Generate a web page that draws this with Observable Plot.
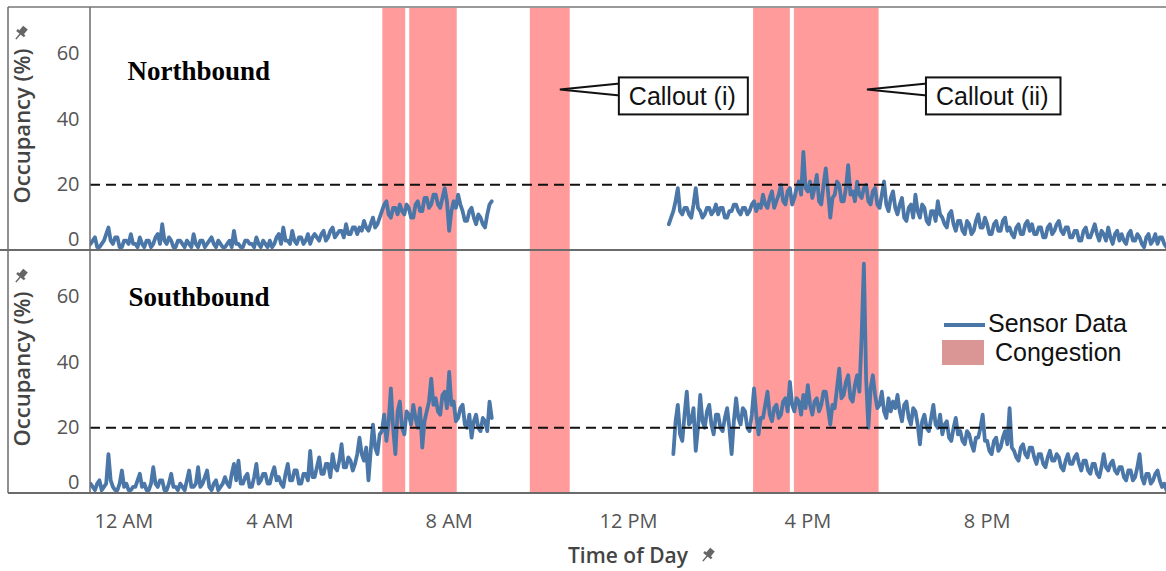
<!DOCTYPE html>
<html>
<head>
<meta charset="utf-8">
<script src="https://cdn.jsdelivr.net/npm/d3@7"></script>
<script src="https://cdn.jsdelivr.net/npm/@observablehq/plot@0.6"></script>
<style>
html,body{margin:0;padding:0;background:#fff;overflow:hidden;}
#wrap{position:relative;width:1166px;height:571px;}
</style>
</head>
<body>
<div id="wrap"></div>
<script>
// ---------- data ----------
const directions = ["Northbound", "Southbound"];
const sampleStepHours = 0.05;

// Northbound occupancy (%), one reading every 0.05 h
const northAMStart = 0.0;
const northAM = [
  2,3,4,1,1,2,3,5,7,3,2,4,4,1,1,3,3,2,5,2,
  2,1,4,2,1,3,3,1,2,4,5,2,8,3,2,4,3,1,1,3,
  3,2,1,3,2,1,5,2,1,3,3,1,2,3,4,2,1,3,2,1,
  1,2,3,1,6,2,2,1,1,3,3,2,2,1,4,2,1,3,2,1,
  3,1,2,4,5,2,7,3,3,2,6,3,2,4,4,2,3,5,2,4,
  5,4,3,5,6,3,4,6,7,4,5,6,6,4,8,5,5,7,7,5,
  7,6,9,7,6,8,10,7,8,10,12,14,15,11,10,13,13,11,14,12,
  11,14,13,10,10,14,15,12,12,16,16,13,14,17,17,14,13,16,19,15,
  6,12,15,13,17,14,12,9,9,12,13,10,8,11,10,8,7,11,14,15
];
const northPMStart = 12.9;
const northPM = [
  8,10,
  12,15,19,12,11,13,13,11,10,14,19,13,12,10,11,13,13,11,12,14,
  11,13,13,10,10,12,12,14,14,12,11,13,13,11,12,14,15,12,14,13,
  17,14,13,16,18,13,15,17,20,15,14,18,19,14,16,19,21,17,30,19,
  18,21,16,19,23,15,14,20,25,18,10,16,17,21,20,15,15,19,26,17,
  18,15,21,17,16,19,20,15,14,18,19,14,13,17,21,14,12,16,18,13,
  11,14,16,10,9,13,14,10,17,12,10,14,13,9,8,12,12,9,15,11,
  10,8,7,11,12,8,6,9,9,6,5,9,8,5,6,9,11,7,7,10,
  8,5,5,8,9,6,6,9,10,6,7,5,4,7,8,5,5,8,9,6,
  8,5,5,7,7,4,4,7,8,5,6,8,9,6,5,7,7,4,4,6,
  6,3,3,6,7,4,4,6,8,5,3,6,5,3,7,4,2,5,6,3,
  5,3,2,5,6,3,3,5,4,2,1,4,5,2,3,5,2,4,4,2,
  1
];

// Southbound occupancy (%)
const southAMStart = 0.0;
const southAM = [
  3,2,1,3,4,1,2,3,12,4,2,1,1,3,7,2,3,1,1,2,
  2,4,6,2,3,1,1,3,8,3,2,4,4,1,1,3,6,2,2,1,
  3,2,1,4,7,2,2,3,8,2,3,5,7,2,1,3,4,1,2,3,
  5,3,2,6,9,4,10,3,3,5,6,2,2,5,9,3,4,6,6,3,
  3,6,8,4,5,3,2,6,9,4,4,7,7,3,3,6,6,4,13,5,
  5,8,11,6,6,9,9,5,12,8,7,10,15,8,8,11,10,7,9,12,
  17,12,10,14,4,13,21,14,12,18,19,24,16,22,32,20,12,25,28,20,
  18,25,24,21,27,23,20,26,14,22,25,28,35,27,29,25,24,30,31,26,
  37,27,28,22,23,26,27,21,20,24,17,22,24,20,19,23,22,19,28,23
];
const southPMStart = 13.0;
const southPM = [
  12,22,27,18,16,24,31,21,22,26,13,20,30,22,20,25,27,21,18,24,
  24,20,19,23,26,20,12,22,29,23,21,26,25,20,19,24,32,24,18,23,
  23,27,31,24,22,26,27,23,24,28,29,25,34,27,25,29,28,24,30,26,
  33,27,24,28,29,25,27,31,31,26,21,27,26,32,38,29,30,34,36,29,
  28,33,36,31,48,70,35,20,32,36,30,26,27,31,25,23,29,25,28,26,
  30,25,22,27,28,23,21,26,25,21,15,22,24,20,19,23,27,21,20,24,
  18,21,22,17,16,20,23,18,19,16,15,19,18,15,13,17,17,20,24,16,
  16,13,12,16,17,13,14,17,19,15,26,14,13,11,10,14,15,12,11,14,
  14,11,9,12,12,9,8,11,13,10,10,12,11,8,7,10,12,9,9,11,
  12,9,7,10,10,7,6,9,9,6,5,8,12,8,7,9,10,7,6,8,
  8,5,4,7,7,4,5,8,12,5,3,6,6,3,4,6,7,4,2,3,
  1
];

// Congestion periods (hour of day)
const congestionStart = [6.52, 7.12, 9.81, 14.79, 15.70];
const congestionEnd   = [7.03, 8.18, 10.70, 15.61, 17.59];

const thresholdOccupancy = 20;
const yTicks = [0, 20, 40, 60];
const xTicks = [0, 4, 8, 12, 16, 20];
const xTickLabels = ["12 AM", "4 AM", "8 AM", "12 PM", "4 PM", "8 PM"];

// Callouts (top panel): label and the (hour, occupancy) they point at
const calloutLabels = ["Callout (i)", "Callout (ii)"];
const calloutHours = [10.48, 17.33];
const calloutOcc = [48.9, 48.9];

// ---------- build tables ----------
function series(dir, seg, start, values) {
  return values.map((v, i) => ({dir, seg: dir + seg, hour: +(start + i * sampleStepHours).toFixed(3), occ: v}));
}
const sensor = [
  ...series("Northbound", "am", northAMStart, northAM),
  ...series("Northbound", "pm", northPMStart, northPM),
  ...series("Southbound", "am", southAMStart, southAM),
  ...series("Southbound", "pm", southPMStart, southPM)
];
const bands = directions.flatMap(dir => congestionStart.map((s, i) => ({dir, x1: s, x2: congestionEnd[i]})));
const thresholds = directions.map(dir => ({dir, v: thresholdOccupancy}));
const labelOf = h => xTickLabels[xTicks.indexOf(h)];

const W = 1166, H = 571, ML = 90, MT = 7, MB = 78;
const tickFont = "Open Sans";

const plot = Plot.plot({
  width: W, height: H,
  marginLeft: ML, marginRight: 0, marginTop: MT, marginBottom: MB,
  x: {domain: [0, 24]},
  y: {domain: [0, 74]},
  fy: {domain: directions, axis: null, padding: 0},
  style: {fontFamily: tickFont, background: "white", overflow: "visible"},
  marks: [
    Plot.rect(bands, {x1: "x1", x2: "x2", fy: "dir", fill: "#ff9b9b"}),
    Plot.line(sensor, {x: "hour", y: "occ", z: "seg", fy: "dir", stroke: "#4a77a8", strokeWidth: 3.8, strokeLinejoin: "round", clip: true}),
    Plot.ruleY(thresholds, {y: "v", fy: "dir", stroke: "#111", strokeWidth: 2, strokeDasharray: "10,6"}),
    Plot.axisY(yTicks.filter(t => t !== 0), {tickSize: 0, tickPadding: 11, fontSize: 20, color: "#555", label: null}),
    Plot.axisY([0], {tickSize: 0, tickPadding: 11, fontSize: 20, color: "#555", label: null, dy: -11}),
    Plot.axisX(xTicks.filter(t => t !== 0), {tickSize: 0, tickPadding: 20, fontSize: 20, color: "#555", label: null, tickFormat: labelOf}),
    Plot.text([0], {x: d => d, fy: () => "Southbound", frameAnchor: "bottom", text: d => labelOf(d), textAnchor: "start", lineAnchor: "top", dx: 4, dy: 20, fontSize: 20, fill: "#555"}),
    Plot.text(["Northbound"], {fy: d => d, text: d => d, frameAnchor: "top-left", textAnchor: "start", lineAnchor: "middle", dx: 37, dy: 64, fontFamily: "Liberation Serif", fontWeight: "bold", fontSize: 27, fill: "#000"}),
    Plot.text(["Southbound"], {fy: d => d, text: d => d, frameAnchor: "top-left", textAnchor: "start", lineAnchor: "middle", dx: 38, dy: 47, fontFamily: "Liberation Serif", fontWeight: "bold", fontSize: 27, fill: "#000"}),
    Plot.text(directions, {fy: d => d, text: () => "Occupancy (%)", frameAnchor: "left", textAnchor: "middle", lineAnchor: "middle", rotate: -90, dx: -68, dy: -3, fontSize: 22, fontWeight: 600, fill: "#444"})
  ]
});
document.getElementById("wrap").appendChild(plot);

// ---------- overlay: frame, callouts, legend, titles ----------
const svg = d3.select(plot);
const ov = svg.append("g").attr("text-anchor", "start");
const lineColor = "#6b6b6b";
// frame lines
ov.append("line").attr("x1", 8).attr("x2", W).attr("y1", MT).attr("y2", MT).attr("stroke", "#999").attr("stroke-width", 2);
ov.append("line").attr("x1", 8).attr("x2", 8).attr("y1", MT).attr("y2", H - MB).attr("stroke", lineColor).attr("stroke-width", 1.5);
ov.append("line").attr("x1", ML).attr("x2", ML).attr("y1", MT).attr("y2", H - MB).attr("stroke", lineColor).attr("stroke-width", 1.5);
ov.append("line").attr("x1", 0).attr("x2", W).attr("y1", (MT + H - MB) / 2).attr("y2", (MT + H - MB) / 2).attr("stroke", lineColor).attr("stroke-width", 2);
ov.append("line").attr("x1", 8).attr("x2", W).attr("y1", H - MB).attr("y2", H - MB).attr("stroke", lineColor).attr("stroke-width", 2);

// callouts via scales
const xs = plot.scale("x"), ys = plot.scale("y"), fys = plot.scale("fy");
const topOffset = fys.apply("Northbound") - MT;
calloutLabels.forEach((lab, i) => {
  const tx = xs.apply(calloutHours[i]);
  const ty = ys.apply(calloutOcc[i]) + topOffset;
  const bx = tx + 59, by = ty - 12, bh = 37;
  const g = ov.append("g");
  const t = g.append("text").attr("x", bx + 10).attr("y", by + bh / 2).attr("dy", "0.36em").attr("text-anchor", "start")
    .attr("font-family", "Liberation Sans, Arial, sans-serif").attr("font-size", 25).attr("fill", "#111").text(lab);
  const tw = t.node().getComputedTextLength();
  g.insert("path", "text").attr("d", `M${bx + 1},${ty - 6} L${tx},${ty} L${bx + 1},${ty + 6}`)
    .attr("fill", "white").attr("stroke", "#111").attr("stroke-width", 2);
  g.insert("rect", "text").attr("x", bx).attr("y", by).attr("width", tw + 22).attr("height", bh)
    .attr("fill", "white").attr("stroke", "#111").attr("stroke-width", 2);
});

// legend
const lg = ov.append("g").attr("font-family", "Liberation Sans, Arial, sans-serif").attr("font-size", 25).attr("fill", "#111").attr("text-anchor", "start");
lg.append("line").attr("x1", 944).attr("x2", 985).attr("y1", 325).attr("y2", 325).attr("stroke", "#4a77a8").attr("stroke-width", 4);
lg.append("text").attr("x", 988).attr("y", 323).attr("dy", "0.36em").text("Sensor Data");
lg.append("rect").attr("x", 942).attr("y", 340).attr("width", 42).attr("height", 25).attr("fill", "#d99694");
lg.append("text").attr("x", 995).attr("y", 352).attr("dy", "0.36em").text("Congestion");

// x axis title
ov.append("text").attr("x", 628).attr("y", 555).attr("dy", "0.36em").attr("text-anchor", "middle")
  .attr("font-family", tickFont).attr("font-weight", 600).attr("font-size", 21).attr("fill", "#444").text("Time of Day");

// pin icons
function pin(cx, cy) {
  const g = ov.append("g").attr("transform", `translate(${cx},${cy}) rotate(40)`).attr("fill", "#666").attr("stroke", "#666");
  g.append("rect").attr("x", -3).attr("y", -7).attr("width", 6).attr("height", 7).attr("stroke", "none");
  g.append("rect").attr("x", -5).attr("y", -1).attr("width", 10).attr("height", 2.5).attr("stroke", "none");
  g.append("line").attr("x1", 0).attr("x2", 0).attr("y1", 1).attr("y2", 8).attr("stroke-width", 1.5);
}
pin(21, 33);
pin(21, 276);
pin(708, 555);
</script>
</body>
</html>
